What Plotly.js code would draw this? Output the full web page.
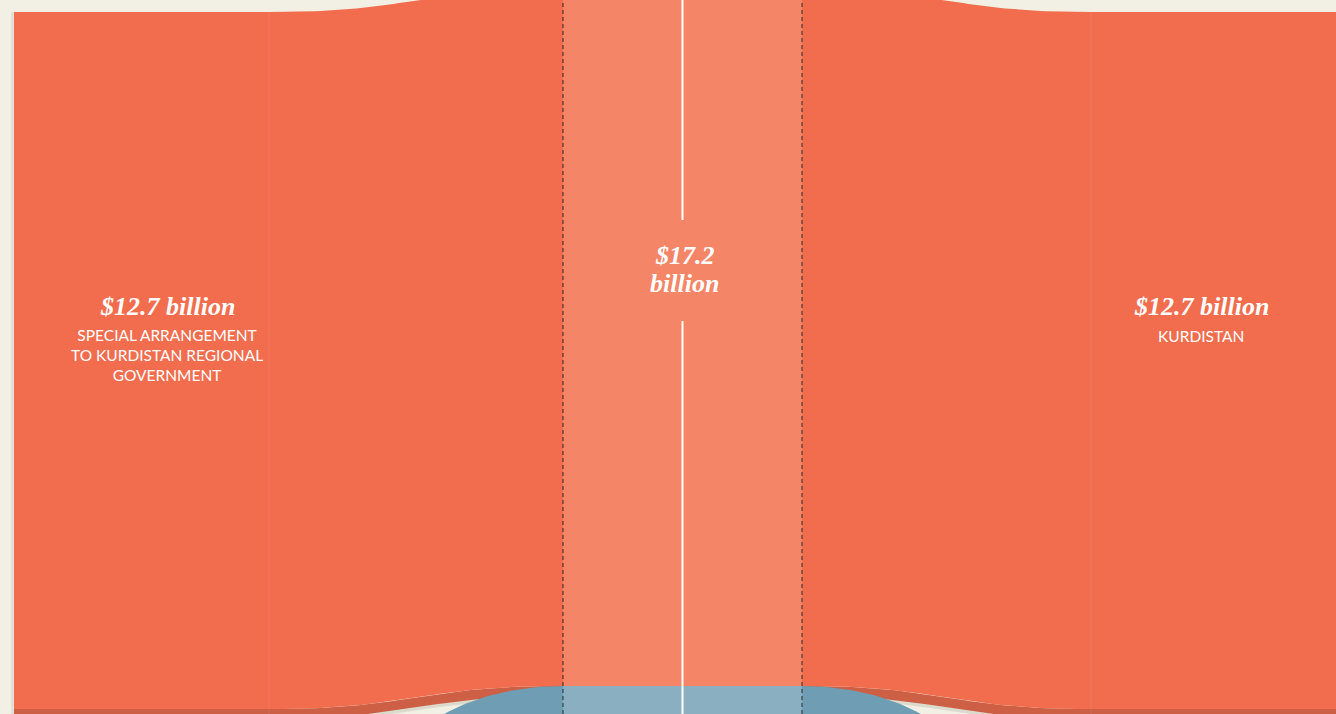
<!DOCTYPE html>
<html>
<head>
<meta charset="utf-8">
<script src="https://cdn.plot.ly/plotly-3.0.1.min.js"></script>
<style>
  html, body { margin: 0; padding: 0; background: #f2f0e4; }
  #chart { width: 1336px; height: 714px; }
</style>
</head>
<body>
<div id="chart"></div>
<script>
// ---------------- DATA ----------------
const nodeKeys      = ['left', 'center', 'right'];
const nodeValues    = [12.7, 17.2, 12.7];               // billions of US$
const valueLabels   = ['$12.7 billion', '$17.2<br>billion', '$12.7 billion'];
const subLabels     = ['SPECIAL ARRANGEMENT<br>TO KURDISTAN REGIONAL<br>GOVERNMENT', '', 'KURDISTAN'];
const sideFlowValue = 0.18;   // thin darker flow running under the main flows (estimated)
const outflowValue  = 1.8;    // blue flow leaving the centre node downward (estimated, mostly cropped)

// ---------------- LAYOUT / GEOMETRY (pixels) ----------------
const W = 1336, H = 714;
const nodeTopPx = 12, nodeBottomPx = 709;          // left node spans its value between these
const centerBottomPx = 686;                        // bottom of centre node
const cols = { leftNode: [14, 269], center: [563, 802], rightNode: [1091, 1400] };
const blueArc = { a: 170, bPx: 98 };              // shape of the blue outflow edges
const whiteGap = [220, 321];
const colors = {
  bg: '#f2f0e4', orange: '#f26d4e', orangeLight: '#f58567', orangeDark: '#cd5f45',
  blue: '#6f9eb4', blueLight: '#8aafc1', dash: '#2a2a2a'
};

// value scale
const k = (nodeBottomPx - nodeTopPx) / nodeValues[0];   // px per billion
const yOfPx = p => (nodeBottomPx - p) / k;
const yRange = [yOfPx(H), yOfPx(0)];
const cBase = yOfPx(centerBottomPx);

function bez(p0, p1, p2, p3, t) {
  const u = 1 - t;
  return u*u*u*p0 + 3*u*u*t*p1 + 3*u*t*t*p2 + t*t*t*p3;
}
function linkEdge(x0, y0, x1, y1, n = 60) {
  const xm = (x0 + x1) / 2, xs = [], ys = [];
  for (let i = 0; i <= n; i++) {
    const t = i / n;
    xs.push(bez(x0, xm, xm, x1, t));
    ys.push(bez(y0, y0, y1, y1, t));
  }
  return [xs, ys];
}
function band(xNodeOuter, xNodeInner, xCenter, y0, y1, cy0, cy1) {
  const [tx, ty] = linkEdge(xNodeInner, y1, xCenter, cy1);
  const [bx, by] = linkEdge(xNodeInner, y0, xCenter, cy0);
  const xs = [xNodeOuter, xNodeOuter].concat(tx, bx.slice().reverse());
  const ys = [y0, y1].concat(ty, by.slice().reverse());
  return { xs, ys };
}
function poly(p, color, name) {
  return { type: 'scatter', mode: 'lines', x: p.xs.concat([p.xs[0]]), y: p.ys.concat([p.ys[0]]),
           fill: 'toself', fillcolor: color, line: { width: 0 }, hoverinfo: 'skip', name, showlegend: false };
}

const vL = nodeValues[0], vC = nodeValues[1], vR = nodeValues[2];
const traces = [];

// soft shadow under the thin dark flows
traces.push(poly(band(cols.leftNode[0], cols.leftNode[1], cols.center[0], -sideFlowValue - 0.06, 0, cBase - sideFlowValue - 0.06, cBase), 'rgba(120,120,100,0.18)', 'sh-left'));
traces.push(poly(band(cols.rightNode[1], cols.rightNode[0], cols.center[1], -sideFlowValue - 0.06, 0, cBase - sideFlowValue - 0.06, cBase), 'rgba(120,120,100,0.18)', 'sh-right'));
// thin dark flows
traces.push(poly(band(cols.leftNode[0], cols.leftNode[1], cols.center[0], -sideFlowValue, 0, cBase - sideFlowValue, cBase), colors.orangeDark, 'side-left'));
traces.push(poly(band(cols.rightNode[1], cols.rightNode[0], cols.center[1], -sideFlowValue, 0, cBase - sideFlowValue, cBase), colors.orangeDark, 'side-right'));

// main orange flows
traces.push(poly(band(cols.leftNode[0], cols.leftNode[1], cols.center[0], 0, vL, cBase, cBase + vL), colors.orange, 'left'));
traces.push(poly(band(cols.rightNode[1], cols.rightNode[0], cols.center[1], 0, vR, cBase, cBase + vR), colors.orange, 'right'));

// centre node
traces.push(poly({ xs: [cols.center[0], cols.center[1], cols.center[1], cols.center[0]],
                   ys: [cBase, cBase, cBase + vC, cBase + vC] }, colors.orangeLight, 'center'));

// blue outflow (curving down out of view)
function blueSide(xEdge, dir) {
  const xs = [], ys = [], n = 60, bVal = blueArc.bPx / k;
  const cy = cBase - bVal;
  for (let i = 0; i <= n; i++) {
    const th = (Math.PI / 2) * i / n;
    xs.push(xEdge + dir * blueArc.a * Math.sin(th));
    ys.push(cy + bVal * Math.cos(th));
  }
  xs.push(xEdge); ys.push(cy - outflowValue);
  return { xs, ys };
}
traces.push(poly(blueSide(cols.center[0], -1), colors.blue, 'blue-l'));
traces.push(poly(blueSide(cols.center[1], 1), colors.blue, 'blue-r'));
traces.push(poly({ xs: [cols.center[0], cols.center[1], cols.center[1], cols.center[0]],
                   ys: [cBase - outflowValue, cBase - outflowValue, cBase, cBase] }, colors.blueLight, 'blue-c'));

// faint node separators & left-edge shadow
const sepLine = (x, col, w) => ({ type: 'scatter', mode: 'lines', x: [x, x], y: [yRange[0], vL],
  line: { color: col, width: w }, hoverinfo: 'skip', showlegend: false });
traces.push(sepLine(cols.leftNode[1], 'rgba(255,255,255,0.08)', 1));
traces.push(sepLine(cols.rightNode[0], 'rgba(255,255,255,0.08)', 1));
traces.push({ type: 'scatter', mode: 'lines', x: [cols.leftNode[0] - 1.5, cols.leftNode[0] - 1.5], y: [yRange[0], vL],
  line: { color: 'rgba(0,0,0,0.06)', width: 3 }, hoverinfo: 'skip', showlegend: false });

// white centre divider with a gap for the label
const xMid = (cols.center[0] + cols.center[1]) / 2;
traces.push({ type: 'scatter', mode: 'lines', x: [xMid, xMid, null, xMid, xMid],
  y: [yRange[1], yOfPx(whiteGap[0]), null, yOfPx(whiteGap[1]), yRange[0]],
  line: { color: '#ffffff', width: 2 }, hoverinfo: 'skip', showlegend: false, connectgaps: false });

const shapes = [cols.center[0], cols.center[1]].map(x => ({
  type: 'line', xref: 'x', yref: 'y', x0: x, x1: x, y0: yRange[0], y1: yRange[1],
  line: { color: colors.dash, width: 1, dash: '4px,3px' }
}));

const serif = { family: 'Liberation Serif, DejaVu Serif, serif', size: 26, color: '#ffffff', style: 'italic', weight: 'bold' };
const sans = { family: 'Lato, Open Sans, sans-serif', size: 15.5, color: '#ffffff' };
const labelX = [(cols.leftNode[0] + 320) / 2, xMid + 2, 1201];
const centerLines = valueLabels[1].split('<br>');
const annotations = [
  { x: labelX[0], y: yOfPx(306), text: valueLabels[0], font: serif },
  { x: labelX[0], y: yOfPx(355), text: subLabels[0], font: sans },
  { x: labelX[1], y: yOfPx(255), text: centerLines[0], font: serif },
  { x: labelX[1], y: yOfPx(283), text: centerLines[1], font: serif },
  { x: labelX[2], y: yOfPx(306), text: valueLabels[2], font: serif },
  { x: labelX[2], y: yOfPx(336), text: subLabels[2], font: sans }
].map(a => Object.assign({ xref: 'x', yref: 'y', showarrow: false, xanchor: 'center', yanchor: 'middle' }, a));

const layout = {
  width: W, height: H,
  margin: { l: 0, r: 0, t: 0, b: 0, pad: 0 },
  paper_bgcolor: colors.bg, plot_bgcolor: colors.bg,
  xaxis: { range: [0, W], visible: false, fixedrange: true },
  yaxis: { range: yRange, visible: false, fixedrange: true },
  shapes, annotations, showlegend: false, hovermode: false
};
Plotly.newPlot('chart', traces, layout, { displayModeBar: false, staticPlot: true });
</script>
</body>
</html>
